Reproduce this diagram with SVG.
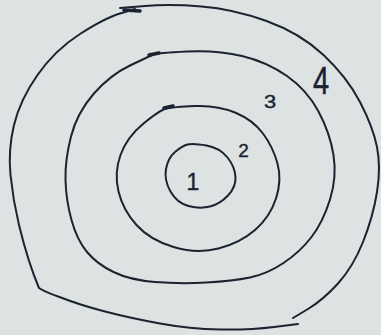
<svg xmlns="http://www.w3.org/2000/svg" width="381" height="335" viewBox="0 0 381 335">
<style>
.ring{fill:none;stroke:#1c2230;stroke-width:2;stroke-linecap:round;stroke-linejoin:round}
.mark{fill:none;stroke:#1c2230;stroke-width:3.5;stroke-linecap:round}
.num{font-family:"Liberation Sans","DejaVu Sans",sans-serif;fill:#1c2230;text-anchor:middle;stroke:#1c2230;stroke-width:0.4}
</style>
<rect width="381" height="335" fill="#dce3e2"/>
<g id="ring4">
<path class="ring" d="M120,8 L145,6 Q170,4 201.5,6.5 Q233,9 266.5,21 Q300,33 323.5,55 Q347,77 360,102 Q373,127 377,147 Q381,167 377,192 Q373,217 363,242 Q353,267 338,283.5 Q323,300 308,309 L293,318"/>
<path class="ring" d="M298,324 L274,327 Q250,330 220,329.5 Q190,329 160,323.5 Q130,318 105,311.5 Q80,305 59.5,297 Q45,292 39,288 Q28,262 19,225 Q13,200 10.5,175 Q8,150 14,125 Q20,100 37.5,75 Q55,50 80,34 Q105,18 120,13.5 L135,9"/>
<path class="mark" d="M124,10 L140,11"/>
<text class="num" transform="translate(321,94) scale(1,1.35)" font-size="29" stroke-width="0.1">4</text>
</g>
<g id="ring3">
<path class="ring" d="M153.5,54.5 Q157,53 187,51.5 Q217,50 242,56 Q267,62 287,76 Q307,90 318.5,111.5 Q330,133 333.5,155 Q337,177 330,199.5 Q323,222 311.5,237 Q300,252 283.5,263 Q267,274 250,277.5 Q233,281 206.5,282.5 Q180,284 155,282 Q130,280 113.5,272 Q97,264 87,252 Q77,240 71.5,220 Q66,200 65.5,180 Q65,160 71,136.5 Q77,113 93.5,94 Q110,75 130,65.5 Q150,56 153.5,54.5 Z"/>
<path class="mark" d="M149,55 L159,53"/>
<text class="num" transform="translate(270,108) scale(1.15,1)" font-size="19">3</text>
</g>
<g id="ring2">
<path class="ring" d="M166.5,108.5 Q173,107 195,106 Q217,105 235,112.5 Q253,120 263,133.5 Q273,147 277.5,163.5 Q282,180 276,198.5 Q270,217 255,230 Q240,243 218.5,248.5 Q197,254 173.5,247 Q150,240 136.5,225 Q123,210 118.5,191.5 Q114,173 120.5,155 Q127,137 143.5,123.5 Q160,110 166.5,108.5 Z"/>
<path class="mark" d="M164,108 L173,106"/>
<text class="num" x="243.5" y="157" font-size="19">2</text>
</g>
<g id="ring1">
<path class="ring" d="M187.5,144.5 Q193,143 206.5,145.5 Q220,148 227.5,157.5 Q235,167 235.5,177 Q236,187 228,195.5 Q220,204 210,206.5 Q200,209 188.5,206 Q177,203 170.5,191.5 Q164,180 166,169 Q168,158 175,152 Q182,146 187.5,144.5 Z"/>
<text class="num" x="193" y="190" font-size="23">1</text>
</g>
</svg>
